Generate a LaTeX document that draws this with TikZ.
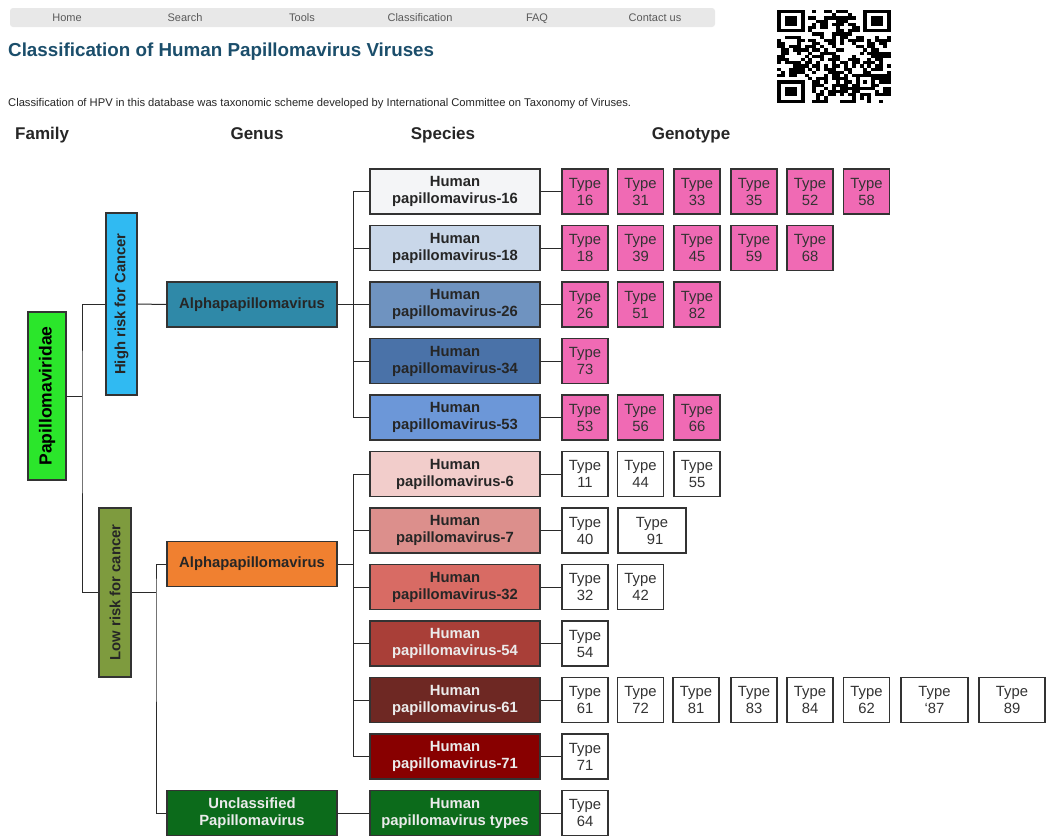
\documentclass[tikz,border=0pt]{standalone}
\usepackage{fontspec}
\setmainfont{Liberation Sans}
\definecolor{boxline}{HTML}{333333}
\definecolor{connc}{HTML}{2A2A2A}
\definecolor{typetext}{HTML}{333333}
\definecolor{pinkc}{HTML}{F06AB4}
\definecolor{famc}{HTML}{2BE62B}
\definecolor{hrc}{HTML}{30BAF2}
\definecolor{lrc}{HTML}{7E9B3E}
\definecolor{ahc}{HTML}{2F89A8}
\definecolor{alc}{HTML}{F08030}
\definecolor{ucc}{HTML}{0C6B1B}
\definecolor{sA}{HTML}{F4F5F7}
\definecolor{sB}{HTML}{C9D7E9}
\definecolor{sC}{HTML}{6F93C0}
\definecolor{sD}{HTML}{4A72A8}
\definecolor{sE}{HTML}{6C97D8}
\definecolor{sF}{HTML}{F2CDCB}
\definecolor{sG}{HTML}{DC8F8C}
\definecolor{sH}{HTML}{D86B64}
\definecolor{sI}{HTML}{A93F38}
\definecolor{sJ}{HTML}{6E2823}
\definecolor{sK}{HTML}{880000}
\definecolor{titlec}{HTML}{1B4E6B}
\definecolor{menuc}{HTML}{E8E8E8}
\begin{document}
\begin{tikzpicture}[x=1pt,y=-1pt,
  box/.style={draw=boxline, line width=1.1pt, inner sep=0pt, align=center},
  typebox/.style={box, minimum width=46pt, minimum height=45pt, font=\fontsize{14.8}{17}\selectfont, text=typetext},
  pinkbox/.style={typebox, fill=pinkc},
  wbox/.style={typebox, fill=white},
  spec/.style={box, minimum width=170pt, minimum height=45pt, font=\bfseries\fontsize{14.8}{17}\selectfont},
  vbox/.style={box, font=\bfseries\fontsize{14.8}{17}\selectfont},
  conn/.style={draw=connc, line width=1pt},
  hdr/.style={anchor=base, inner sep=0pt, font=\bfseries\fontsize{17}{20}\selectfont, text=black!85},
  menu/.style={anchor=base, inner sep=0pt, font=\fontsize{11}{13}\selectfont, text=black!65}
]
\useasboundingbox (0,0) rectangle (1047,836);
\fill[white] (0,0) rectangle (1047,836);

% menu bar
\fill[menuc, rounded corners=3pt] (10,8) rectangle (715,27);
\node[menu] (mhome) at (67,21) {Home};
\node[menu] (msearch) at (185,21) {Search};
\node[menu] (mtools) at (302,21) {Tools};
\node[menu] (mclass) at (420,21) {Classification};
\node[menu] (mfaq) at (537,21) {FAQ};
\node[menu] (mcontact) at (655,21) {Contact us};

% title and intro
\node[anchor=west, inner sep=0pt, text=titlec, font=\bfseries\fontsize{18.8}{22}\selectfont] (title) at (8,52) {Classification of Human Papillomavirus Viruses};
\node[anchor=west, inner sep=0pt, text=black!85, font=\fontsize{11.2}{13}\selectfont] (intro) at (8,104) {Classification of HPV in this database was taxonomic scheme developed by International Committee on Taxonomy of Viruses.};

% QR code
\begin{scope}[shift={(777,10)}, x=3.93pt, y=-3.2pt]
  \pgfmathsetseed{4711}
  \foreach \i in {0,...,28}{
    \foreach \j in {0,...,28}{
      \pgfmathtruncatemacro{\skipit}{((\i<8) && (\j<8)) || ((\i>20) && (\j<8)) || ((\i<8) && (\j>20)) || ((\i>19) && (\i<25) && (\j>19) && (\j<25))}
      \pgfmathrandominteger{\rr}{0}{1}
      \ifnum\skipit=0
        \ifnum\rr=1
          \fill[black] (\i,\j) rectangle ++(1.02,1.02);
        \fi
      \fi
    }
  }
  \foreach \ox/\oy in {0/0, 22/0, 0/22}{
    \fill[black] (\ox,\oy) rectangle ++(7,7);
    \fill[white] (\ox+1,\oy+1) rectangle ++(5,5);
    \fill[black] (\ox+2,\oy+2) rectangle ++(3,3);
  }
  \fill[black] (20,20) rectangle ++(5,5);
  \fill[white] (21,21) rectangle ++(3,3);
  \fill[black] (22,22) rectangle ++(1,1);
\end{scope}

% headers
\node[hdr, anchor=base west] (hfam) at (15,139) {Family};
\node[hdr] (hgen) at (257,139) {Genus};
\node[hdr] (hspe) at (443,139) {Species};
\node[hdr] (hgeno) at (691,139) {Genotype};

% family / risk / genus
\node[vbox, fill=famc, text=black, minimum height=168pt, minimum width=38pt, font=\bfseries\fontsize{17.5}{20}\selectfont] (fam) at (47,396) {\rotatebox{90}{Papillomaviridae}};
\node[vbox, fill=hrc, text=black!85, minimum height=182pt, minimum width=31pt] (hr) at (121.5,304) {\rotatebox{90}{High risk for Cancer}};
\node[vbox, fill=lrc, text=black!85, minimum height=169pt, minimum width=32pt] (lr) at (115,592.5) {\rotatebox{90}{Low risk for cancer}};
\node[spec, fill=ahc, text=black!85] (ah) at (252,304.5) {Alphapapillomavirus};
\node[spec, fill=alc, text=black!85] (al) at (252,564) {Alphapapillomavirus};
\node[spec, fill=ucc, text=white!92!black] (uc) at (252,813) {Unclassified\\Papillomavirus};

% species
\node[spec, fill=sA, text=black!85] (s16) at (455,191.5) {Human\\papillomavirus-16};
\node[spec, fill=sB, text=black!85] (s18) at (455,248) {Human\\papillomavirus-18};
\node[spec, fill=sC, text=black!85] (s26) at (455,304.5) {Human\\papillomavirus-26};
\node[spec, fill=sD, text=black!85] (s34) at (455,361) {Human\\papillomavirus-34};
\node[spec, fill=sE, text=black!85] (s53) at (455,417.5) {Human\\papillomavirus-53};
\node[spec, fill=sF, text=black!85] (s6) at (455,474) {Human\\papillomavirus-6};
\node[spec, fill=sG, text=black!85] (s7) at (455,530.5) {Human\\papillomavirus-7};
\node[spec, fill=sH, text=black!85] (s32) at (455,587) {Human\\papillomavirus-32};
\node[spec, fill=sI, text=white!92!black] (s54) at (455,643.5) {Human\\papillomavirus-54};
\node[spec, fill=sJ, text=white!92!black] (s61) at (455,700) {Human\\papillomavirus-61};
\node[spec, fill=sK, text=white!92!black] (s71) at (455,756.5) {Human\\papillomavirus-71};
\node[spec, fill=ucc, text=white!92!black] (st) at (455,813) {Human\\papillomavirus types};

% genotypes, high risk
\node[pinkbox] (t16) at (585,191.5) {Type\\16};
\node[pinkbox] (t31) at (640.5,191.5) {Type\\31};
\node[pinkbox] (t33) at (697,191.5) {Type\\33};
\node[pinkbox] (t35) at (754,191.5) {Type\\35};
\node[pinkbox] (t52) at (810,191.5) {Type\\52};
\node[pinkbox] (t58) at (866.5,191.5) {Type\\58};
\node[pinkbox] (t18) at (585,248) {Type\\18};
\node[pinkbox] (t39) at (640.5,248) {Type\\39};
\node[pinkbox] (t45) at (697,248) {Type\\45};
\node[pinkbox] (t59) at (754,248) {Type\\59};
\node[pinkbox] (t68) at (810,248) {Type\\68};
\node[pinkbox] (t26) at (585,304.5) {Type\\26};
\node[pinkbox] (t51) at (640.5,304.5) {Type\\51};
\node[pinkbox] (t82) at (697,304.5) {Type\\82};
\node[pinkbox] (t73) at (585,361) {Type\\73};
\node[pinkbox] (t53) at (585,417.5) {Type\\53};
\node[pinkbox] (t56) at (640.5,417.5) {Type\\56};
\node[pinkbox] (t66) at (697,417.5) {Type\\66};

% genotypes, low risk
\node[wbox] (t11) at (585,474) {Type\\11};
\node[wbox] (t44) at (640.5,474) {Type\\44};
\node[wbox] (t55) at (697,474) {Type\\55};
\node[wbox] (t40) at (585,530.5) {Type\\40};
\node[wbox, minimum width=68pt] (t91) at (652,530.5) {Type\\\hspace{6pt}91};
\node[wbox] (t32) at (585,587) {Type\\32};
\node[wbox] (t42) at (640.5,587) {Type\\42};
\node[wbox] (t54) at (585,643.5) {Type\\54};
\node[wbox] (t61) at (585,700) {Type\\61};
\node[wbox] (t72) at (640.5,700) {Type\\72};
\node[wbox] (t81) at (696,700) {Type\\81};
\node[wbox] (t83) at (754,700) {Type\\83};
\node[wbox] (t84) at (810,700) {Type\\84};
\node[wbox] (t62) at (866.5,700) {Type\\62};
\node[wbox, minimum width=67pt] (t87) at (934.5,700) {Type\\`87};
\node[wbox, minimum width=66pt] (t89) at (1012,700) {Type\\89};
\node[wbox] (t71) at (585,756.5) {Type\\71};
\node[wbox] (t64) at (585,813) {Type\\64};

% connectors
\coordinate (famj) at (82,396);
\coordinate (lrj) at (156,592.5);
\coordinate (hj) at (353,304.5);
\coordinate (lj) at (353,564);
\draw[conn] (fam.east) -- (famj);
\draw[conn] (hr.west) -| (famj) |- (lr.west);
\draw[conn] (hr.east) -- (ah.west);
\draw[conn] (lr.east) -- (lrj);
\draw[conn] (al.west) -| (lrj) |- (uc.west);
\draw[conn] (ah.east) -- (hj);
\draw[conn] (al.east) -- (lj);
\draw[conn] (uc.east) -- (st.west);
\foreach \s in {s16,s18,s26,s34,s53}{\draw[conn] (\s.west) -| (hj);}
\foreach \s in {s6,s7,s32,s54,s61,s71}{\draw[conn] (\s.west) -| (lj);}
\foreach \s/\t in {s16/t16,s18/t18,s26/t26,s34/t73,s53/t53,s6/t11,s7/t40,s32/t32,s54/t54,s61/t61,s71/t71,st/t64}{\draw[conn] (\s.east) -- (\t.west);}
\end{tikzpicture}
\end{document}
